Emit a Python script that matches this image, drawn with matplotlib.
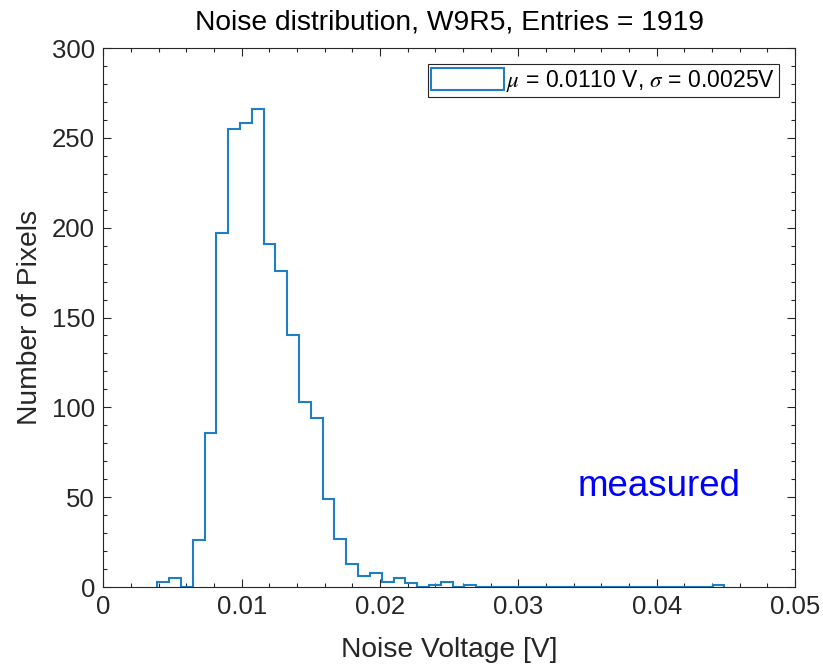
import matplotlib.pyplot as plt
import numpy as np
from matplotlib.ticker import MultipleLocator

plt.rcParams['font.family'] = ['Liberation Sans', 'DejaVu Sans']
plt.rcParams['mathtext.fontset'] = 'stix'

# histogram: 48 bins starting near 3.9 mV
BIN_START = 0.0039
BIN_WIDTH = 0.000854
counts = [3, 5, 0, 26, 86, 197, 255, 258, 266, 191, 176, 140,
          103, 94, 49, 27, 13, 6, 8, 3, 5, 2, 0, 1,
          3, 0, 1, 0, 0, 0, 0, 0, 0, 0, 0, 0,
          0, 0, 0, 0, 0, 0, 0, 0, 0, 0, 0, 1]
edges = BIN_START + BIN_WIDTH * np.arange(len(counts) + 1)
centers = 0.5 * (edges[:-1] + edges[1:])

TITLE = 'Noise distribution, W9R5, Entries = 1919'
LEGEND_LABEL = r'$\mu$ = 0.0110 V, $\sigma$ = 0.0025V'

AX_COLOR = '#262626'
LINE_COLOR = '#1f7fc4'

fig = plt.figure(figsize=(8.23, 6.66), dpi=100)
ax = fig.add_axes([0.1255, 0.1186, 0.8405, 0.8093])

ax.hist(centers, bins=edges, weights=counts, histtype='step',
        color=LINE_COLOR, linewidth=1.5, label=LEGEND_LABEL)

ax.set_xlim(0, 0.05)
ax.set_ylim(0, 300)
ax.set_xticks(np.arange(0, 0.051, 0.01))
ax.set_xticklabels(['0', '0.01', '0.02', '0.03', '0.04', '0.05'])
ax.xaxis.set_minor_locator(MultipleLocator(0.002))
ax.yaxis.set_major_locator(MultipleLocator(50))
ax.yaxis.set_minor_locator(MultipleLocator(10))

ax.tick_params(which='both', direction='in', top=True, right=True,
               colors=AX_COLOR, labelsize=18.5, width=0.8)
ax.tick_params(which='major', length=6, pad=6)
ax.tick_params(which='minor', length=3)
for sp in ax.spines.values():
    sp.set_color(AX_COLOR)
    sp.set_linewidth(0.8)

ax.set_xlabel('Noise Voltage [V]', fontsize=20.3, color=AX_COLOR, labelpad=13)
ax.set_ylabel('Number of Pixels', fontsize=20.3, color=AX_COLOR, labelpad=6)
ax.set_title(TITLE, fontsize=20.3, color='black', pad=13)

ax.text(0.0343, 56, 'measured', color='blue', fontsize=26.5, va='center', ha='left')

leg = ax.legend(loc='upper right', fontsize=16.6, fancybox=False,
                framealpha=1, edgecolor=AX_COLOR, handlelength=3.15,
                handleheight=1.1, handletextpad=0.1, borderpad=0.15,
                borderaxespad=0.7)
leg.get_frame().set_linewidth(0.8)

fig.savefig('out.png', dpi=100)
